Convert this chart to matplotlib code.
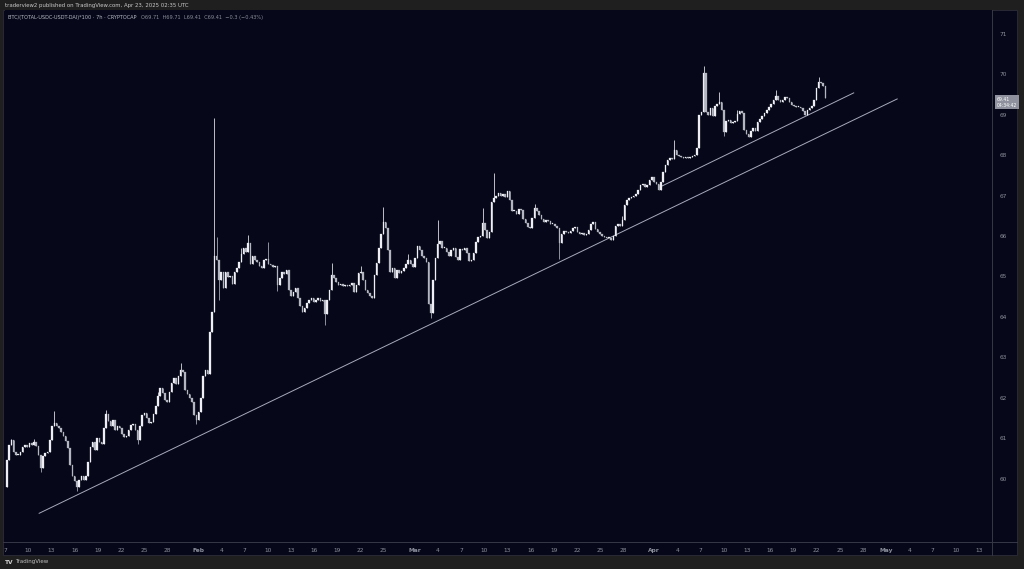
import pandas as pd
import matplotlib.pyplot as plt
import matplotlib.dates as mdates
from matplotlib.patches import Rectangle
from matplotlib.lines import Line2D
from matplotlib.transforms import blended_transform_factory

# BTC dominance ex-stables, 7h candles (closes)
start = "2025-01-07 06:00"
first_open = 59.79
closes = [
    60.46, 60.83, 60.95, 60.65, 60.58, 60.58, 60.65, 60.78, 60.83, 60.78,
    60.88, 60.83, 60.90, 60.80, 60.58, 60.26, 60.55, 60.63, 60.65, 60.95,
    61.30, 61.37, 61.30, 61.25, 61.15, 61.05, 60.93, 60.75, 60.33, 60.06,
    59.94, 59.79, 59.96, 60.06, 59.96, 60.06, 60.41, 60.78, 60.90, 60.70,
    61.00, 60.90, 60.85, 61.25, 61.59, 61.42, 61.30, 61.45, 61.20, 61.30,
    61.25, 61.10, 61.02, 61.05, 61.20, 61.32, 61.35, 61.20, 60.95, 61.30,
    61.57, 61.62, 61.50, 61.37, 61.40, 61.59, 61.79, 62.04, 62.24, 62.11,
    61.94, 61.89, 62.14, 62.36, 62.49, 62.34, 62.54, 62.68, 62.63, 62.19,
    62.09, 61.99, 61.89, 61.57, 61.45, 61.64, 61.99, 62.54, 62.68, 62.58,
    63.62, 64.12, 65.51, 65.41, 64.91, 65.11, 64.71, 65.11, 64.99, 65.01,
    64.81, 65.11, 65.21, 65.36, 65.55, 65.70, 65.60, 65.83, 65.31, 65.51,
    65.41, 65.36, 65.26, 65.21, 65.41, 65.43, 65.31, 65.28, 65.23, 65.26,
    64.79, 64.96, 65.11, 65.06, 65.16, 64.66, 64.51, 64.61, 64.71, 64.47,
    64.27, 64.12, 64.22, 64.34, 64.42, 64.47, 64.37, 64.42, 64.47, 64.39,
    64.42, 64.07, 64.42, 64.66, 65.03, 64.96, 64.86, 64.79, 64.81, 64.76,
    64.79, 64.76, 64.79, 64.84, 64.61, 64.79, 65.08, 65.11, 64.91, 64.66,
    64.59, 64.51, 64.47, 65.03, 65.33, 65.70, 66.05, 66.35, 66.20, 65.65,
    65.11, 65.21, 64.96, 65.16, 65.08, 65.13, 65.21, 65.31, 65.41, 65.31,
    65.23, 65.46, 65.75, 65.65, 65.51, 65.46, 65.36, 64.32, 64.09, 64.91,
    65.46, 65.80, 65.88, 65.70, 65.70, 65.60, 65.51, 65.65, 65.70, 65.48,
    65.41, 65.68, 65.65, 65.70, 65.58, 65.38, 65.41, 65.58, 65.85, 65.98,
    66.00, 66.32, 66.15, 65.95, 66.10, 66.84, 66.94, 66.99, 67.06, 66.99,
    67.04, 66.97, 67.11, 66.89, 66.62, 66.62, 66.55, 66.67, 66.64, 66.42,
    66.32, 66.22, 66.20, 66.45, 66.69, 66.62, 66.52, 66.42, 66.35, 66.40,
    66.37, 66.30, 66.30, 66.25, 66.20, 65.83, 66.05, 66.12, 66.10, 66.07,
    66.12, 66.20, 66.22, 66.10, 66.05, 66.07, 66.02, 66.05, 66.15, 66.30,
    66.35, 66.17, 66.10, 66.05, 66.00, 65.98, 65.95, 65.95, 65.90, 66.00,
    66.25, 66.30, 66.25, 66.40, 66.77, 66.89, 66.94, 66.97, 66.99, 67.04,
    67.14, 67.26, 67.29, 67.21, 67.26, 67.39, 67.46, 67.34, 67.29, 67.14,
    67.34, 67.58, 67.76, 67.88, 67.93, 67.91, 68.13, 68.01, 67.98, 67.96,
    67.93, 67.96, 67.93, 67.96, 67.98, 68.01, 68.18, 68.99, 69.07, 70.03,
    69.07, 69.00, 69.17, 68.97, 69.22, 69.27, 69.32, 69.12, 68.57, 68.85,
    68.87, 68.80, 68.82, 68.85, 69.02, 69.10, 69.05, 68.62, 68.53, 68.45,
    68.60, 68.67, 68.60, 68.82, 68.90, 68.97, 69.05, 69.12, 69.19, 69.27,
    69.37, 69.47, 69.37, 69.32, 69.37, 69.44, 69.42, 69.32, 69.24, 69.22,
    69.19, 69.19, 69.17, 69.10, 69.00, 69.12, 69.17, 69.22, 69.37, 69.66,
    69.81, 69.79, 69.71, 69.41,
]
# wicks that stick out past the bodies
wick_highs = {2: 60.98, 12: 60.98, 21: 61.67, 44: 61.70, 67: 62.15, 77: 62.85,
              92: 68.92, 93: 65.98, 104: 65.70, 107: 66.02, 116: 65.85,
              144: 65.33, 157: 65.25, 167: 66.72, 178: 65.55, 191: 66.40,
              211: 66.69, 216: 67.56, 234: 66.80, 273: 66.50, 296: 68.38,
              309: 70.21, 316: 69.56, 324: 69.12, 341: 69.61, 360: 69.94}
wick_lows = {15: 60.15, 31: 59.69, 58: 60.85, 84: 61.35, 94: 64.42,
             120: 64.65, 141: 63.80, 188: 63.97, 245: 65.42, 318: 68.48}

# drawn trend lines
lower_line_dates = ["2025-01-11 10:00", "2025-05-02 10:00"]
lower_line_values = [59.14, 69.39]
upper_line_dates = ["2025-04-01 17:00", "2025-04-26 19:00"]
upper_line_values = [67.21, 69.54]

price_ticks = [60, 61, 62, 63, 64, 65, 66, 67, 68, 69, 70, 71]
month_starts = {"Feb": "2025-02-01", "Mar": "2025-03-01", "Apr": "2025-04-01", "May": "2025-05-01"}
jan_days = [7, 10, 13, 16, 19, 22, 25, 28]
feb_days = [4, 7, 10, 13, 16, 19, 22, 25]
mar_apr_days = [4, 7, 10, 13, 16, 19, 22, 25, 28]
may_days = [4, 7, 10, 13]

header = "traderview2 published on TradingView.com, Apr 23, 2025 02:35 UTC"
symbol = "BTC/(TOTAL-USDC-USDT-DAI)*100 · 7h · CRYPTOCAP"
ohlc = "O69.71  H69.71  L69.41  C69.41  −0.3 (−0.43%)"
countdown = "04:34:42"

BG = "#060718"
FRAME = "#1f1f1f"
LINE = "#363848"
TXT = "#8c8f9c"

W, H = 1024, 569
fig = plt.figure(figsize=(W / 100, H / 100), dpi=100, facecolor=FRAME)

def px(x, y):
    return x / W, 1 - y / H

# chart panel (behind the axes)
fig.patches.append(Rectangle((3 / W, 1 - 555 / H), 1014 / W, 545 / H,
                             transform=fig.transFigure, facecolor=BG,
                             edgecolor="#2c2d38", lw=0.6, zorder=-5))
ax = fig.add_axes([5 / W, 1 - 542 / H, 987 / W, 532 / H])
ax.set_facecolor(BG)
ax.set_zorder(1)

times = pd.date_range(start, periods=len(closes), freq="7h")
x = mdates.date2num(times.to_pydatetime())
opens = [first_open] + closes[:-1]
period = 7 / 24

for i in range(len(closes)):
    o, c = opens[i], closes[i]
    col = "#eeeff4" if c >= o else "#b3b5c1"
    hi = wick_highs.get(i, max(o, c))
    lo = wick_lows.get(i, min(o, c))
    ax.vlines(x[i], lo, hi, color=col, lw=0.55, zorder=3)
    body = max(abs(c - o), 0.02)
    ax.bar(x[i], body, bottom=min(o, c), width=period * 0.68,
           color=col, edgecolor=col, lw=0.2, zorder=4)

ax.plot(mdates.datestr2num(lower_line_dates), lower_line_values, color="#a7abbd", lw=0.7, zorder=2)
ax.plot(mdates.datestr2num(upper_line_dates), upper_line_values, color="#a7abbd", lw=0.7, zorder=2)

ax.set_xlim(mdates.datestr2num("2025-01-07 00:00"), mdates.datestr2num("2025-05-14 16:20"))
ax.set_ylim(58.43, 71.59)

# date axis
tick_dates = ["2025-01-%02d" % d for d in jan_days]
tick_labels = [str(d) for d in jan_days]
for name, m, days in [("Feb", 2, feb_days), ("Mar", 3, mar_apr_days),
                      ("Apr", 4, mar_apr_days), ("May", 5, may_days)]:
    tick_dates.append(month_starts[name])
    tick_labels.append(name)
    tick_dates += ["2025-%02d-%02d" % (m, d) for d in days]
    tick_labels += [str(d) for d in days]
ax.set_xticks(mdates.datestr2num(tick_dates))
ax.set_xticklabels(tick_labels)
for lab in ax.get_xticklabels():
    if lab.get_text() in month_starts:
        lab.set_fontweight("bold")
ax.tick_params(axis="x", length=0, pad=4, labelsize=4.2, colors=TXT)

ax.yaxis.tick_right()
ax.set_yticks(price_ticks)
ax.tick_params(axis="y", length=0, pad=5.5, labelsize=4.2, colors=TXT)

for s in ["top", "left", "right", "bottom"]:
    ax.spines[s].set_visible(False)

fig.add_artist(Line2D([992 / W, 992 / W], [1 - 10 / H, 1 - 555 / H], color=LINE, lw=0.7, zorder=2))
fig.add_artist(Line2D([3 / W, 1017 / W], [1 - 542 / H, 1 - 542 / H], color=LINE, lw=0.7, zorder=2))

# last price tag
tr = blended_transform_factory(ax.transAxes, ax.transData)
ax.annotate(f"{closes[-1]:.2f}\n{countdown}", xy=(1.005, closes[-1]), xycoords=tr,
            xytext=(0, -3), textcoords="offset points", ha="left", va="center",
            fontsize=3.3, color="white", linespacing=1.15, annotation_clip=False,
            bbox=dict(boxstyle="square,pad=0.35", fc="#8f929e", ec="none"))

# header / legend / footer
fig.text(*px(5, 5), header, fontsize=3.9, color="#c9c9c9", va="center")
fig.text(*px(8, 17), symbol, fontsize=3.6, color="#b9bbc6", va="center")
fig.text(*px(141, 17), ohlc, fontsize=3.6, color="#8c8f9c", va="center")
fig.text(*px(5, 562), "TV", fontsize=4.2, color="#d0d0d0", va="center", fontweight="bold")
fig.text(*px(15, 562), "TradingView", fontsize=4.0, color="#c0c0c0", va="center")

fig.savefig("out.png", dpi=100, facecolor=FRAME)
